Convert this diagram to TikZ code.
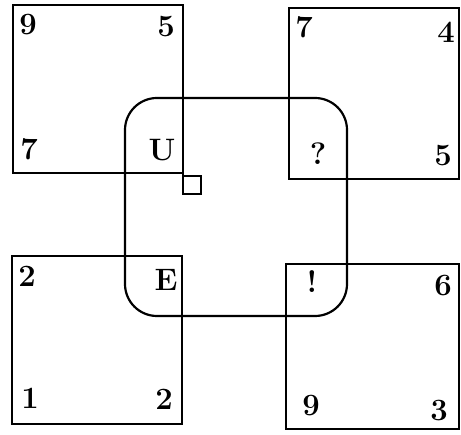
\documentclass[tikz,border=0pt]{standalone}
\begin{document}
\begin{tikzpicture}[x=1pt,y=-1pt,
  edge/.style={draw=black,line width=2.2pt,line join=miter},
  lbl/.style={font=\fontsize{31}{31}\selectfont\bfseries,inner sep=0pt,anchor=center}]
\useasboundingbox (0,0) rectangle (461,435);
% squares
\draw[edge] (13,5) rectangle (183,173);
\draw[edge] (183,173) -- (183,176);
\draw[edge] (183,176) rectangle (201,194);
\draw[edge] (289,8) rectangle (459,179);
\draw[edge] (12,256) rectangle (182,424);
\draw[edge] (286,264) rectangle (459,429);
% rounded centre frame
\draw[edge,rounded corners=32pt] (125,98) rectangle (347,316);
% labels
\node[lbl] (a1) at (28,25) {9};
\node[lbl] (a2) at (166,27) {5};
\node[lbl] (a3) at (29,149) {7};
\node[lbl] (a4) at (162,150) {U};
\node[lbl] (b1) at (304,27) {7};
\node[lbl] (b2) at (446,32) {4};
\node[lbl] (b3) at (318,154) {?};
\node[lbl] (b4) at (443,156) {5};
\node[lbl] (c1) at (27,276) {2};
\node[lbl] (c2) at (166,280) {E};
\node[lbl] (c3) at (30,398) {1};
\node[lbl] (c4) at (164,399) {2};
\node[lbl] (d1) at (312,282) {!};
\node[lbl] (d2) at (443,286) {6};
\node[lbl] (d3) at (311,406) {9};
\node[lbl] (d4) at (439,411) {3};
\end{tikzpicture}
\end{document}
